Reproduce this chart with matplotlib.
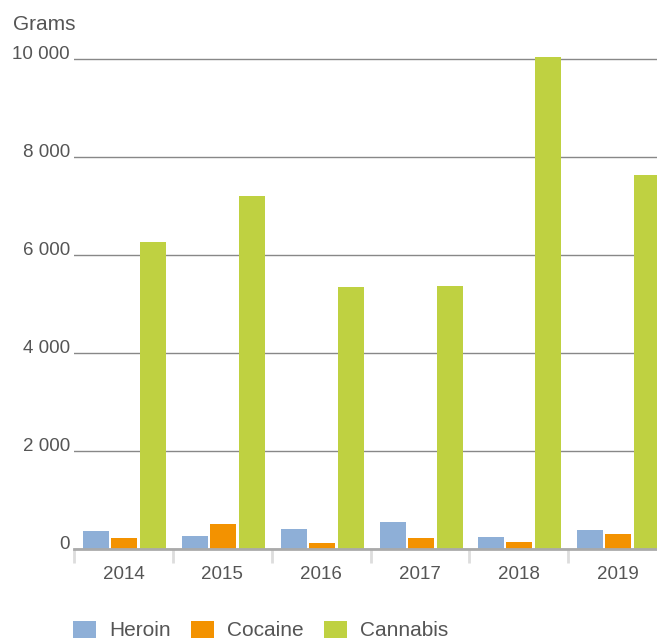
import numpy as np
import matplotlib
matplotlib.use("Agg")
import matplotlib.pyplot as plt
from matplotlib.ticker import FuncFormatter

# DATA
years = ["2014", "2015", "2016", "2017", "2018", "2019"]
heroin = [370, 265, 410, 550, 245, 390]
cocaine = [225, 510, 120, 225, 145, 305]
cannabis = [6265, 7205, 5345, 5365, 10040, 7630]

# STYLE
plt.rcParams["font.family"] = ["Liberation Sans", "DejaVu Sans"]
txt = "#555555"
colors = ["#8EAFD7", "#F39200", "#BFD141"]
fs = 13.5

fig = plt.figure(figsize=(6.57, 6.40), dpi=100)
ax = fig.add_axes([74 / 657, 91 / 640, 593 / 657, (549 - 49.2) / 640])

x = np.arange(len(years))
w = 0.263
ax.bar(x - 0.277, heroin, w, color=colors[0], label="Heroin")
ax.bar(x + 0.006, cocaine, w, color=colors[1], label="Cocaine")
ax.bar(x + 0.30, cannabis, w, color=colors[2], label="Cannabis")

ax.set_xlim(-0.5, 5.5)
ax.set_ylim(0, 10200)
ax.set_yticks([0, 2000, 4000, 6000, 8000, 10000])
ax.yaxis.set_major_formatter(FuncFormatter(lambda v, p: f"{int(v):,}".replace(",", " ")))
ax.grid(axis="y", color="#888888", linewidth=1)
ax.set_axisbelow(True)
for s in ["top", "right", "left"]:
    ax.spines[s].set_visible(False)
ax.spines["bottom"].set_color("#aaaaaa")
ax.spines["bottom"].set_linewidth(2)
ax.tick_params(axis="y", length=0, pad=3, labelsize=fs, labelcolor=txt)
for t in ax.get_yticklabels():
    t.set_va("baseline")

ax.set_xticks(x)
ax.set_xticklabels(years)
ax.set_xticks(np.arange(-0.5, 6, 1), minor=True)
ax.tick_params(axis="x", which="major", length=0, pad=12, labelsize=fs, labelcolor=txt)
ax.tick_params(axis="x", which="minor", length=10, width=2, color="#dddddd")

fig.text(13 / 657, 1 - 25 / 640, "Grams", fontsize=15, color=txt, va="center", ha="left")

leg = fig.legend(loc="center left", bbox_to_anchor=(73 / 657, 1 - 630.5 / 640), ncol=3, frameon=False,
                 fontsize=15, handlelength=1.12, handleheight=0.9, handletextpad=0.63,
                 columnspacing=0.95, borderpad=0, borderaxespad=0)
for t in leg.get_texts():
    t.set_color(txt)

fig.savefig("out.png", dpi=100)
